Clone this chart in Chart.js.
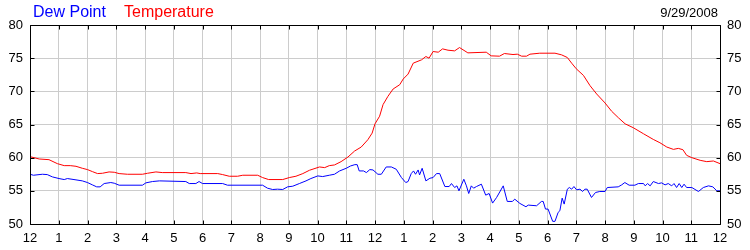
<!DOCTYPE html>
<html><head><meta charset="utf-8">
<script src="https://cdn.jsdelivr.net/npm/chart.js@4"></script>
<style>
body{margin:0;background:#fff}
#wrap{position:relative;width:750px;height:250px}
.t{position:absolute;font-family:"Liberation Sans",Arial,sans-serif;white-space:nowrap;line-height:normal}
</style></head><body>
<div id="wrap">
<canvas id="c" width="750" height="250"></canvas>
<span class="t" style="left:33px;top:3px;font-size:16px;color:#0000ff">Dew Point</span>
<span class="t" style="left:124px;top:3px;font-size:16px;color:#ff0000">Temperature</span>
<span class="t" style="right:32px;top:5px;font-size:13px;color:#000">9/29/2008</span>
</div>
<script>
// ===================== DATOS =====================
const horaLabels=['12','1','2','3','4','5','6','7','8','9','10','11','12','1','2','3','4','5','6','7','8','9','10','11','12'];
const yTicks=[50,55,60,65,70,75,80];

const tempHoras=[0,0.32,0.66,0.95,1.19,1.4,1.6,1.82,2.0,2.17,2.35,2.52,2.75,2.93,3.1,3.39,3.91,4.09,4.38,4.6,5.42,5.6,5.8,5.92,6.53,6.7,6.93,7.22,7.4,7.92,8.09,8.3,8.79,9.02,9.25,9.49,9.72,10.07,10.25,10.41,10.59,10.82,11.06,11.29,11.52,11.75,11.9,12.0,12.16,12.28,12.45,12.63,12.86,12.98,13.15,13.33,13.62,13.77,13.88,14.02,14.2,14.35,14.54,14.77,14.94,15.23,15.87,16.04,16.33,16.5,16.8,16.95,17.1,17.27,17.39,17.73,18.26,18.49,18.69,18.84,19.0,19.25,19.48,19.71,20.0,20.23,20.47,20.7,20.99,21.34,21.68,21.91,22.15,22.38,22.55,22.71,22.84,23.02,23.31,23.54,23.77,24];
const tempValores=[60.15,59.8,59.7,59.1,58.8,58.8,58.7,58.4,58.2,57.9,57.6,57.65,57.85,57.8,57.6,57.5,57.5,57.65,57.85,57.75,57.75,57.6,57.7,57.6,57.6,57.45,57.2,57.2,57.35,57.35,57.0,56.7,56.7,57.0,57.2,57.6,58.1,58.6,58.5,58.8,58.9,59.4,60.1,61.0,61.6,62.7,63.7,65.1,66.25,68,69.25,70.35,71,71.85,72.6,74.25,74.75,75.25,75,76,75.9,76.4,76.2,76.1,76.6,75.8,75.9,75.35,75.3,75.7,75.55,75.6,75.3,75.3,75.6,75.75,75.75,75.5,75.1,74.25,73.4,72.4,70.85,69.6,68.25,67,66,65.1,64.5,63.6,62.75,62.25,61.6,61.25,61.4,61.2,60.35,60,59.6,59.4,59.5,59.1];

const rocioHoras=[0,0.12,0.43,0.6,0.78,1.01,1.19,1.3,1.53,1.82,2.0,2.17,2.32,2.44,2.58,2.81,2.93,3.1,3.91,4.03,4.26,4.5,5.42,5.54,5.77,5.88,6.0,6.7,6.87,8.09,8.26,8.44,8.61,8.79,8.96,9.14,9.37,9.6,9.77,10.01,10.18,10.41,10.59,10.77,11.0,11.15,11.3,11.38,11.45,11.6,11.7,11.82,11.93,12.1,12.22,12.39,12.57,12.74,12.92,13.07,13.15,13.26,13.34,13.41,13.5,13.55,13.64,13.77,13.91,14.02,14.14,14.25,14.43,14.58,14.66,14.77,14.85,14.92,15.09,15.18,15.26,15.35,15.43,15.53,15.7,15.85,15.97,16.09,16.23,16.46,16.6,16.78,16.86,17.04,17.25,17.33,17.62,17.79,17.85,17.93,18.02,18.18,18.26,18.37,18.43,18.51,18.58,18.69,18.76,18.84,18.92,19.01,19.13,19.22,19.3,19.38,19.53,19.67,19.82,20.0,20.08,20.46,20.58,20.69,20.84,21.04,21.16,21.34,21.4,21.48,21.57,21.68,21.86,21.97,22.09,22.2,22.32,22.4,22.49,22.58,22.67,22.75,22.84,23.02,23.25,23.42,23.6,23.75,23.89,24];
const rocioValores=[57.5,57.35,57.5,57.45,57.1,56.85,56.7,56.85,56.7,56.5,56.25,55.9,55.6,55.6,56.1,56.25,56.15,55.85,55.85,56.2,56.4,56.5,56.4,56.1,56.1,56.4,56.1,56.1,55.85,55.85,55.4,55.2,55.25,55.2,55.6,55.7,56.1,56.5,56.85,57.25,57.15,57.35,57.5,58,58.4,58.75,58.95,58.95,58,58,57.75,58.2,58.15,57.5,57.5,58.6,58.6,58.25,57,56.25,56.4,57.6,58,57.5,58.15,57.4,58.4,56.5,56.9,57,57.6,57.6,55.65,55.65,56.1,55.5,55.75,55,56.75,55.75,54.6,55.75,55.4,55.65,56,54.35,54.6,53.15,54,55.75,53.4,53.4,53.75,53.1,52.6,52.85,52.75,53.4,53.4,52.25,52.25,50.4,50.4,51.75,52,53.9,53,55.25,55.5,55.25,55.65,55.15,55.25,54.9,55.25,55.25,54,54.75,54.9,54.9,55.5,55.6,55.9,56.25,55.85,55.85,56.1,56.1,55.75,56.1,55.75,56.4,56.1,56.2,55.9,56.1,55.75,56.1,55.5,56.1,55.5,56,55.5,55.5,54.9,55.5,55.75,55.6,55,55];

// ===================== GRAFICO =====================
const fuente='"Liberation Sans", Arial, sans-serif';
Chart.defaults.font.family=fuente;
Chart.defaults.font.size=13;
Chart.defaults.color='#000';

const puntos=(hs,vs)=>hs.map((h,i)=>({x:h,y:vs[i]}));

// marco negro + marcas hacia adentro
const marcoPlugin={id:'marco',afterDraw(ch){
  const {ctx,chartArea:a,scales:{x,y}}=ch;
  const L=Math.round(a.left)+.5,R=Math.round(a.right)+.5,T=Math.round(a.top)+.5,B=Math.round(a.bottom)+.5;
  ctx.save();ctx.strokeStyle='#000';ctx.lineWidth=1;ctx.beginPath();
  x.ticks.forEach(t=>{const px=Math.round(x.getPixelForValue(t.value))+.5;
    ctx.moveTo(px,T);ctx.lineTo(px,T+4);ctx.moveTo(px,B);ctx.lineTo(px,B-4);});
  y.ticks.forEach(t=>{const py=Math.round(y.getPixelForValue(t.value))+.5;
    ctx.moveTo(L,py);ctx.lineTo(L+4,py);ctx.moveTo(R,py);ctx.lineTo(R-4,py);});
  ctx.rect(L,T,R-L,B-T);
  ctx.stroke();ctx.restore();
}};

const yComun={min:50,max:80,border:{display:false},
  afterBuildTicks:s=>{s.ticks=yTicks.map(v=>({value:v}));},
  afterFit:s=>{s.width=30;}};

new Chart(document.getElementById('c'),{type:'line',
  data:{datasets:[
    {label:'Dew Point',data:puntos(rocioHoras,rocioValores),borderColor:'#0000ff',borderWidth:1,pointRadius:0,tension:0},
    {label:'Temperature',data:puntos(tempHoras,tempValores),borderColor:'#ff0000',borderWidth:1,pointRadius:0,tension:0}
  ]},
  plugins:[marcoPlugin],
  options:{responsive:false,animation:false,devicePixelRatio:1,
    layout:{padding:{top:25,left:0,right:0,bottom:0}},
    plugins:{legend:{display:false},tooltip:{enabled:false}},
    scales:{
      x:{type:'linear',min:0,max:24,border:{display:false},
        grid:{color:'#cccccc',drawTicks:false},
        ticks:{stepSize:1,autoSkip:false,maxRotation:0,padding:7,callback:v=>horaLabels[v]},
        afterFit:s=>{s.height=26;}},
      y:{...yComun,position:'left',grid:{color:'#cccccc',drawTicks:false},ticks:{padding:7}},
      y2:{...yComun,position:'right',grid:{drawOnChartArea:false,drawTicks:false},ticks:{padding:7}}
    }
  }
});
</script>
</body></html>
